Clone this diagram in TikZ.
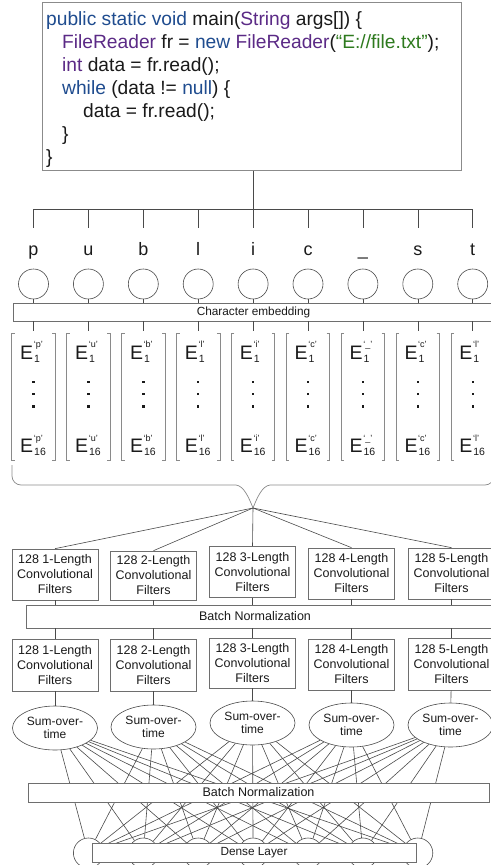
\documentclass[tikz,border=0pt]{standalone}
\usepackage{fontspec}
\setmainfont{Liberation Sans}
\usetikzlibrary{shapes.geometric}
\definecolor{kwblue}{HTML}{1F4C8F}
\definecolor{kwpurple}{HTML}{5B2A86}
\definecolor{strgreen}{HTML}{2E7A1E}
\definecolor{linec}{HTML}{4A4A4A}
\definecolor{boxc}{HTML}{6E6E6E}
\definecolor{brc}{HTML}{8A8A8A}
\definecolor{txt}{HTML}{1A1A1A}
\tikzset{
  ln/.style={draw=linec, line width=0.6bp},
  bx/.style={rectangle, draw=boxc, line width=0.7bp, fill=white, inner sep=0pt, text=txt},
  filt/.style={bx, minimum width=86bp, align=center, font=\fontsize{12.5bp}{15bp}\selectfont},
  bnbox/.style={bx, font=\fontsize{12.5bp}{15bp}\selectfont},
  codeline/.style={anchor=base west, inner sep=0pt, text=txt, font=\fontsize{19.2bp}{23bp}\selectfont},
  chr/.style={anchor=north, inner xsep=0pt, inner ysep=14bp, text height=13bp, text depth=4bp, text=txt, font=\fontsize{18bp}{20bp}\selectfont},
  neuron/.style={circle, draw=linec, line width=0.6bp, minimum size=30bp, inner sep=0pt},
  vecbox/.style={rectangle, minimum width=43bp, minimum height=129bp, inner sep=0pt},
  brk/.style={draw=brc, line width=0.7bp},
  efont/.style={anchor=base west, inner sep=0pt, text=txt, font=\fontsize{19.5bp}{20bp}\selectfont},
  supf/.style={anchor=base west, inner sep=0pt, text=txt, font=\fontsize{9bp}{10bp}\selectfont},
  subf/.style={anchor=base west, inner sep=0pt, text=txt, font=\fontsize{10.5bp}{11bp}\selectfont},
  sumov/.style={ellipse, draw=linec, line width=0.6bp, fill=white, minimum width=85bp, minimum height=44bp, inner sep=0pt, align=center, text=txt, font=\fontsize{12bp}{13bp}\selectfont},
}
\begin{document}
\begin{tikzpicture}[x=1bp,y=-1bp]
\useasboundingbox (0,0) rectangle (491,865);
% code box
\node[bx, line width=1bp, draw=boxc!80, minimum width=418bp, minimum height=167bp] (code) at (252,86.5) {};
\node[codeline] (l1) at (46,25) {\textcolor{kwblue}{public static void} main(\textcolor{kwpurple}{String} args[]) \{};
\node[codeline] (l2) at (62,48) {\textcolor{kwpurple}{FileReader} fr = \textcolor{kwblue}{new} \textcolor{kwpurple}{FileReader}(\textcolor{strgreen}{“E://file.txt”});};
\node[codeline] (l3) at (62,71) {\textcolor{kwpurple}{int} data = fr.read();};
\node[codeline] (l4) at (62,94) {\textcolor{kwblue}{while} (data != \textcolor{kwblue}{null}) \{};
\node[codeline] (l5) at (83,117) {data = fr.read();};
\node[codeline] (l6) at (62,140) {\}};
\node[codeline] (l7) at (46,163) {\}};

% embedding box
\node[bx, minimum width=481bp, minimum height=18bp, font=\fontsize{11.8bp}{13bp}\selectfont] (emb) at (253.5,312) {Character embedding};

\foreach \i/\c/\s in {1/p/p,2/u/u,3/b/b,4/l/l,5/i/i,6/c/c,7/\_/\_,8/s/c,9/t/l} {
  \pgfmathsetmacro\x{33.5+54.9*(\i-1)}
  \coordinate (t\i) at (\x,209);
  \node[chr] (ch\i) at (\x,228) {\c};
  \draw[ln] (t\i) -- (ch\i);
  \node[neuron] (c\i) at (\x,284) {};
  \draw[ln] (c\i) -- (c\i |- emb.north);
  \node[vecbox] (v\i) at (\x,395.5) {};
  \draw[ln] (c\i |- emb.south) -- (v\i.north);
  \draw[brk] ([xshift=3bp,yshift=-3bp]v\i.north west) -- ([yshift=-3bp]v\i.north west) -- (v\i.south west) -- ([xshift=3bp]v\i.south west);
  \draw[brk] ([xshift=-3bp,yshift=-3bp]v\i.north east) -- ([yshift=-3bp]v\i.north east) -- (v\i.south east) -- ([xshift=-3bp]v\i.south east);
  \node[efont] (ea\i) at (\x-13.5,359) {E};
  \node[supf] at ([xshift=0.3bp,yshift=11.5bp]ea\i.base east) {‘\s’};
  \node[subf] at ([xshift=0.6bp,yshift=-3bp]ea\i.base east) {1};
  \node[efont] (eb\i) at (\x-13.5,452) {E};
  \node[supf] at ([xshift=0.3bp,yshift=11bp]eb\i.base east) {‘\s’};
  \node[subf] at ([xshift=0.6bp,yshift=-3bp]eb\i.base east) {16};
  \fill[txt] (\x-1.2,380.5) rectangle (\x+1.2,382.9);
  \fill[txt] (\x-1.2,392.8) rectangle (\x+1.2,395.2);
  \fill[txt] (\x-1.2,405.1) rectangle (\x+1.2,407.5);
}
\draw[ln] (t1) -- (t9);
\draw[ln] (code.south -| t5) -- (t5);

% brace
\coordinate (tip) at (253,508);
\draw[brk] (tip) .. controls (249,498) and (244,486) .. (236,485) [rounded corners=9bp] -- (12,485) -- (12,465);
\draw[brk] (tip) .. controls (257,498) and (262,486) .. (270,485) [rounded corners=9bp] -- (494,485) -- (494,465);

% filter rows
\node[filt, minimum height=51bp] (f1) at (55,574.5) {128 1-Length\\Convolutional\\Filters};
\node[filt, minimum height=49bp] (f2) at (153.5,575.5) {128 2-Length\\Convolutional\\Filters};
\node[filt, minimum height=51bp] (f3) at (252.5,572) {128 3-Length\\Convolutional\\Filters};
\node[filt, minimum height=51bp] (f4) at (351.5,573.5) {128 4-Length\\Convolutional\\Filters};
\node[filt, minimum height=51bp] (f5) at (451.5,573.5) {128 5-Length\\Convolutional\\Filters};
\foreach \k in {1,...,5} { \draw[ln] (tip) -- (f\k.north); }

\node[bnbox, minimum width=470bp, minimum height=23bp] (bn1) at (261,616.5) {\hspace*{-12bp}Batch Normalization};

\node[filt, minimum height=52bp] (g1) at (55,665) {128 1-Length\\Convolutional\\Filters};
\node[filt, minimum height=52bp] (g2) at (153.5,665) {128 2-Length\\Convolutional\\Filters};
\node[filt, minimum height=50bp] (g3) at (252.5,663) {128 3-Length\\Convolutional\\Filters};
\node[filt, minimum height=51bp] (g4) at (351.5,664.5) {128 4-Length\\Convolutional\\Filters};
\node[filt, minimum height=52bp] (g5) at (451.5,664) {128 5-Length\\Convolutional\\Filters};

\node[sumov] (e1) at (55,728) {Sum-over-\\time};
\node[sumov] (e2) at (153.5,727) {Sum-over-\\time};
\node[sumov] (e3) at (252.5,723) {Sum-over-\\time};
\node[sumov] (e4) at (351.5,725) {Sum-over-\\time};
\node[sumov] (e5) at (450.5,725) {Sum-over-\\time};

\foreach \k in {1,...,5} {
  \draw[ln] (f\k) -- (f\k |- bn1.north);
  \draw[ln] (g\k |- bn1.south) -- (g\k);
  \draw[ln] (g\k) -- (e\k);
}

% output neurons
\foreach \j in {2,...,8} {
  \pgfmathsetmacro\x{33.5+54.9*(\j-1)}
  \node[neuron] (o\j) at (\x,853) {};
}
\foreach \k in {1,...,5} {
  \foreach \j in {2,...,8} { \draw[ln] (e\k) -- (o\j); }
}

\node[bnbox, minimum width=461bp, minimum height=19bp] (bn2) at (258.5,792.5) {Batch Normalization};
\node[bnbox, minimum width=324bp, minimum height=19bp, font=\fontsize{11.8bp}{13bp}\selectfont] (dense) at (254,852.5) {Dense Layer};
\end{tikzpicture}
\end{document}
